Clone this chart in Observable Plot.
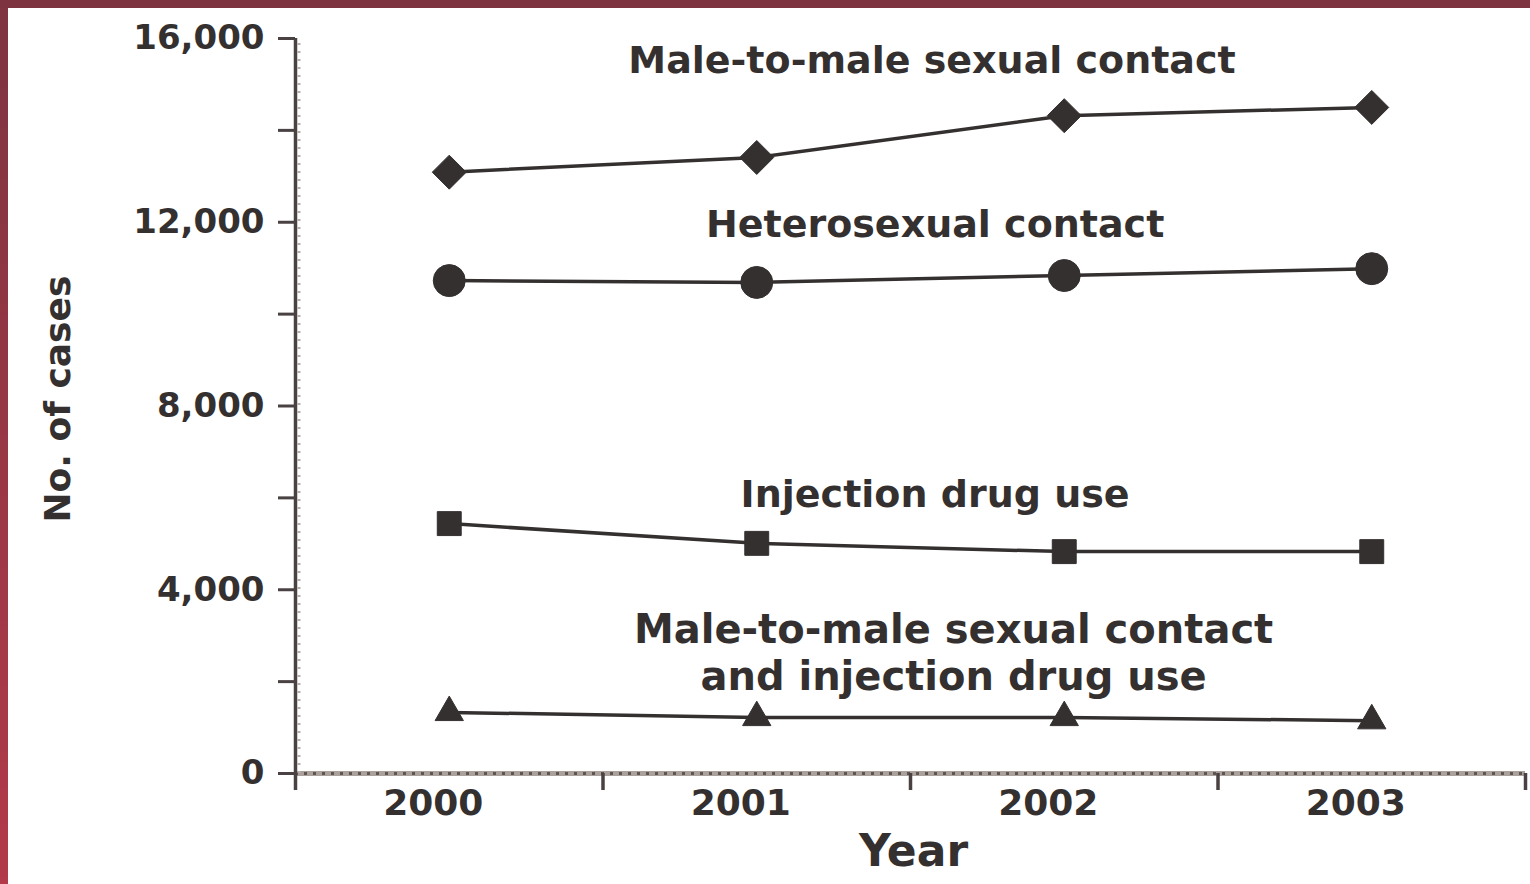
<!DOCTYPE html>
<html>
<head>
<meta charset="utf-8">
<script src="https://cdn.jsdelivr.net/npm/d3@7"></script>
<script src="https://cdn.jsdelivr.net/npm/@observablehq/plot@0.6"></script>
<style>
  html, body { margin: 0; padding: 0; background: #fff; }
  #wrap { position: relative; width: 1530px; height: 884px; overflow: hidden; background: #fff; }
  #bt { position: absolute; left: 0; top: 0; width: 1530px; height: 8px; background: #7e3440; }
  #bl { position: absolute; left: 0; top: 0; width: 8px; height: 884px; background: linear-gradient(#7e3440, #b23a4a); }
  svg text { font-family: "DejaVu Sans", sans-serif; font-weight: bold; fill: #353030; }
</style>
</head>
<body>
<div id="wrap"><div id="chart"></div><div id="bt"></div><div id="bl"></div></div>
<script>
// ---- data ----
const years = [2000, 2001, 2002, 2003];
const msm = [13090, 13410, 14320, 14500];          // Male-to-male sexual contact
const hetero = [10730, 10690, 10840, 10990];       // Heterosexual contact
const idu = [5440, 5010, 4830, 4830];              // Injection drug use
const msmIdu = [1330, 1220, 1220, 1150];           // MSM and injection drug use

const seriesNames = [
  "Male-to-male sexual contact",
  "Heterosexual contact",
  "Injection drug use",
  "Male-to-male sexual contact\nand injection drug use"
];
const seriesValues = [msm, hetero, idu, msmIdu];
const seriesSymbols = ["diamond2", "circle", "square", "triangle"];
const seriesR = [15.3, 16, 13.5, 10.5];

// label anchors in data space (year, cases)
const labelX = [2001.57, 2001.58, 2001.58, 2001.64];
const labelY = [15560, 11990, 6100, 2650];
const labelSize = [38, 38, 38, 40];

const yTicks = [0, 2000, 4000, 6000, 8000, 10000, 12000, 14000, 16000];
const yLabeled = [0, 4000, 8000, 12000, 16000];
const xTickLabels = ["2000", "2001", "2002", "2003"];
const xBoundaries = [1999.5, 2000.5, 2001.5, 2002.5, 2003.5];

const rows = seriesNames.flatMap((s, i) => years.map((yr, j) => ({series: s, year: yr, value: seriesValues[i][j]})));
const labels = seriesNames.map((s, i) => ({text: s, x: labelX[i], y: labelY[i], size: labelSize[i]}));

const ink = "#353030";

const marks = [];
// x axis line (grey, dotted texture)
marks.push(Plot.ruleY([0], {x1: xBoundaries[0], x2: xBoundaries[4], stroke: "#aaa19d", strokeWidth: 5}));
marks.push(Plot.ruleY([0], {x1: xBoundaries[0], x2: xBoundaries[4], stroke: "#5e5450", strokeWidth: 3, strokeDasharray: "3,6"}));
// y axis line
marks.push(Plot.ruleX([xBoundaries[0]], {y1: 0, y2: 16000, stroke: "#4a4242", strokeWidth: 3.5}));
marks.push(Plot.ruleX([xBoundaries[0]], {y1: 0, y2: 16000, stroke: "#b8b0ac", strokeWidth: 3, strokeDasharray: "2,6", dx: 3.5}));
// y axis ticks and labels
marks.push(Plot.axisY({
  ticks: yTicks,
  tickSize: 17,
  tickPadding: 14,
  tickFormat: d => yLabeled.includes(d) ? d3.format(",")(d) : "",
  stroke: "#4a4242",
  strokeWidth: 3,
  fontSize: 34,
  label: null
}));
// x boundary ticks (downward)
marks.push(Plot.ruleX(xBoundaries, {x: d => d, y1: 0, y2: 0, insetBottom: -17, stroke: "#4a4242", strokeWidth: 3.5}));
// x year labels
marks.push(Plot.axisX({
  ticks: years,
  tickSize: 0,
  tickPadding: 16,
  tickFormat: (d, i) => xTickLabels[i],
  fontSize: 36,
  dx: -16,
  label: null
}));
// lines
marks.push(Plot.line(rows, {x: "year", y: "value", z: "series", stroke: ink, strokeWidth: 3.5}));
// markers
seriesNames.forEach((s, i) => {
  marks.push(Plot.dot(rows.filter(r => r.series === s), {x: "year", y: "value", symbol: seriesSymbols[i], r: seriesR[i], fill: ink, stroke: ink, strokeWidth: 1}));
});
// series labels
labels.forEach(l => {
  marks.push(Plot.text([l], {x: "x", y: "y", text: "text", fontSize: l.size, fontWeight: "bold", fill: ink, lineHeight: 1.16, textAnchor: "middle"}));
});
// axis titles
marks.push(Plot.text(["Year"], {frameAnchor: "bottom", x: [2001.51], text: d => d, fontSize: 44, fontWeight: "bold", fill: ink, dy: 92}));
marks.push(Plot.text(["No. of cases"], {frameAnchor: "left", y: [8150], text: d => d, rotate: -90, textAnchor: "middle", lineAnchor: "middle", fontSize: 36, fontWeight: "bold", fill: ink, dx: -237}));

const chart = Plot.plot({
  width: 1530,
  height: 884,
  marginLeft: 295,
  marginRight: 5,
  marginTop: 38,
  marginBottom: 111,
  x: {type: "linear", domain: [1999.5, 2003.5], axis: null},
  y: {type: "linear", domain: [0, 16000], axis: null},
  style: {fontFamily: "DejaVu Sans", fontWeight: "bold", background: "#fff", color: ink, overflow: "visible"},
  marks
});
document.getElementById("chart").appendChild(chart);
</script>
</body>
</html>
